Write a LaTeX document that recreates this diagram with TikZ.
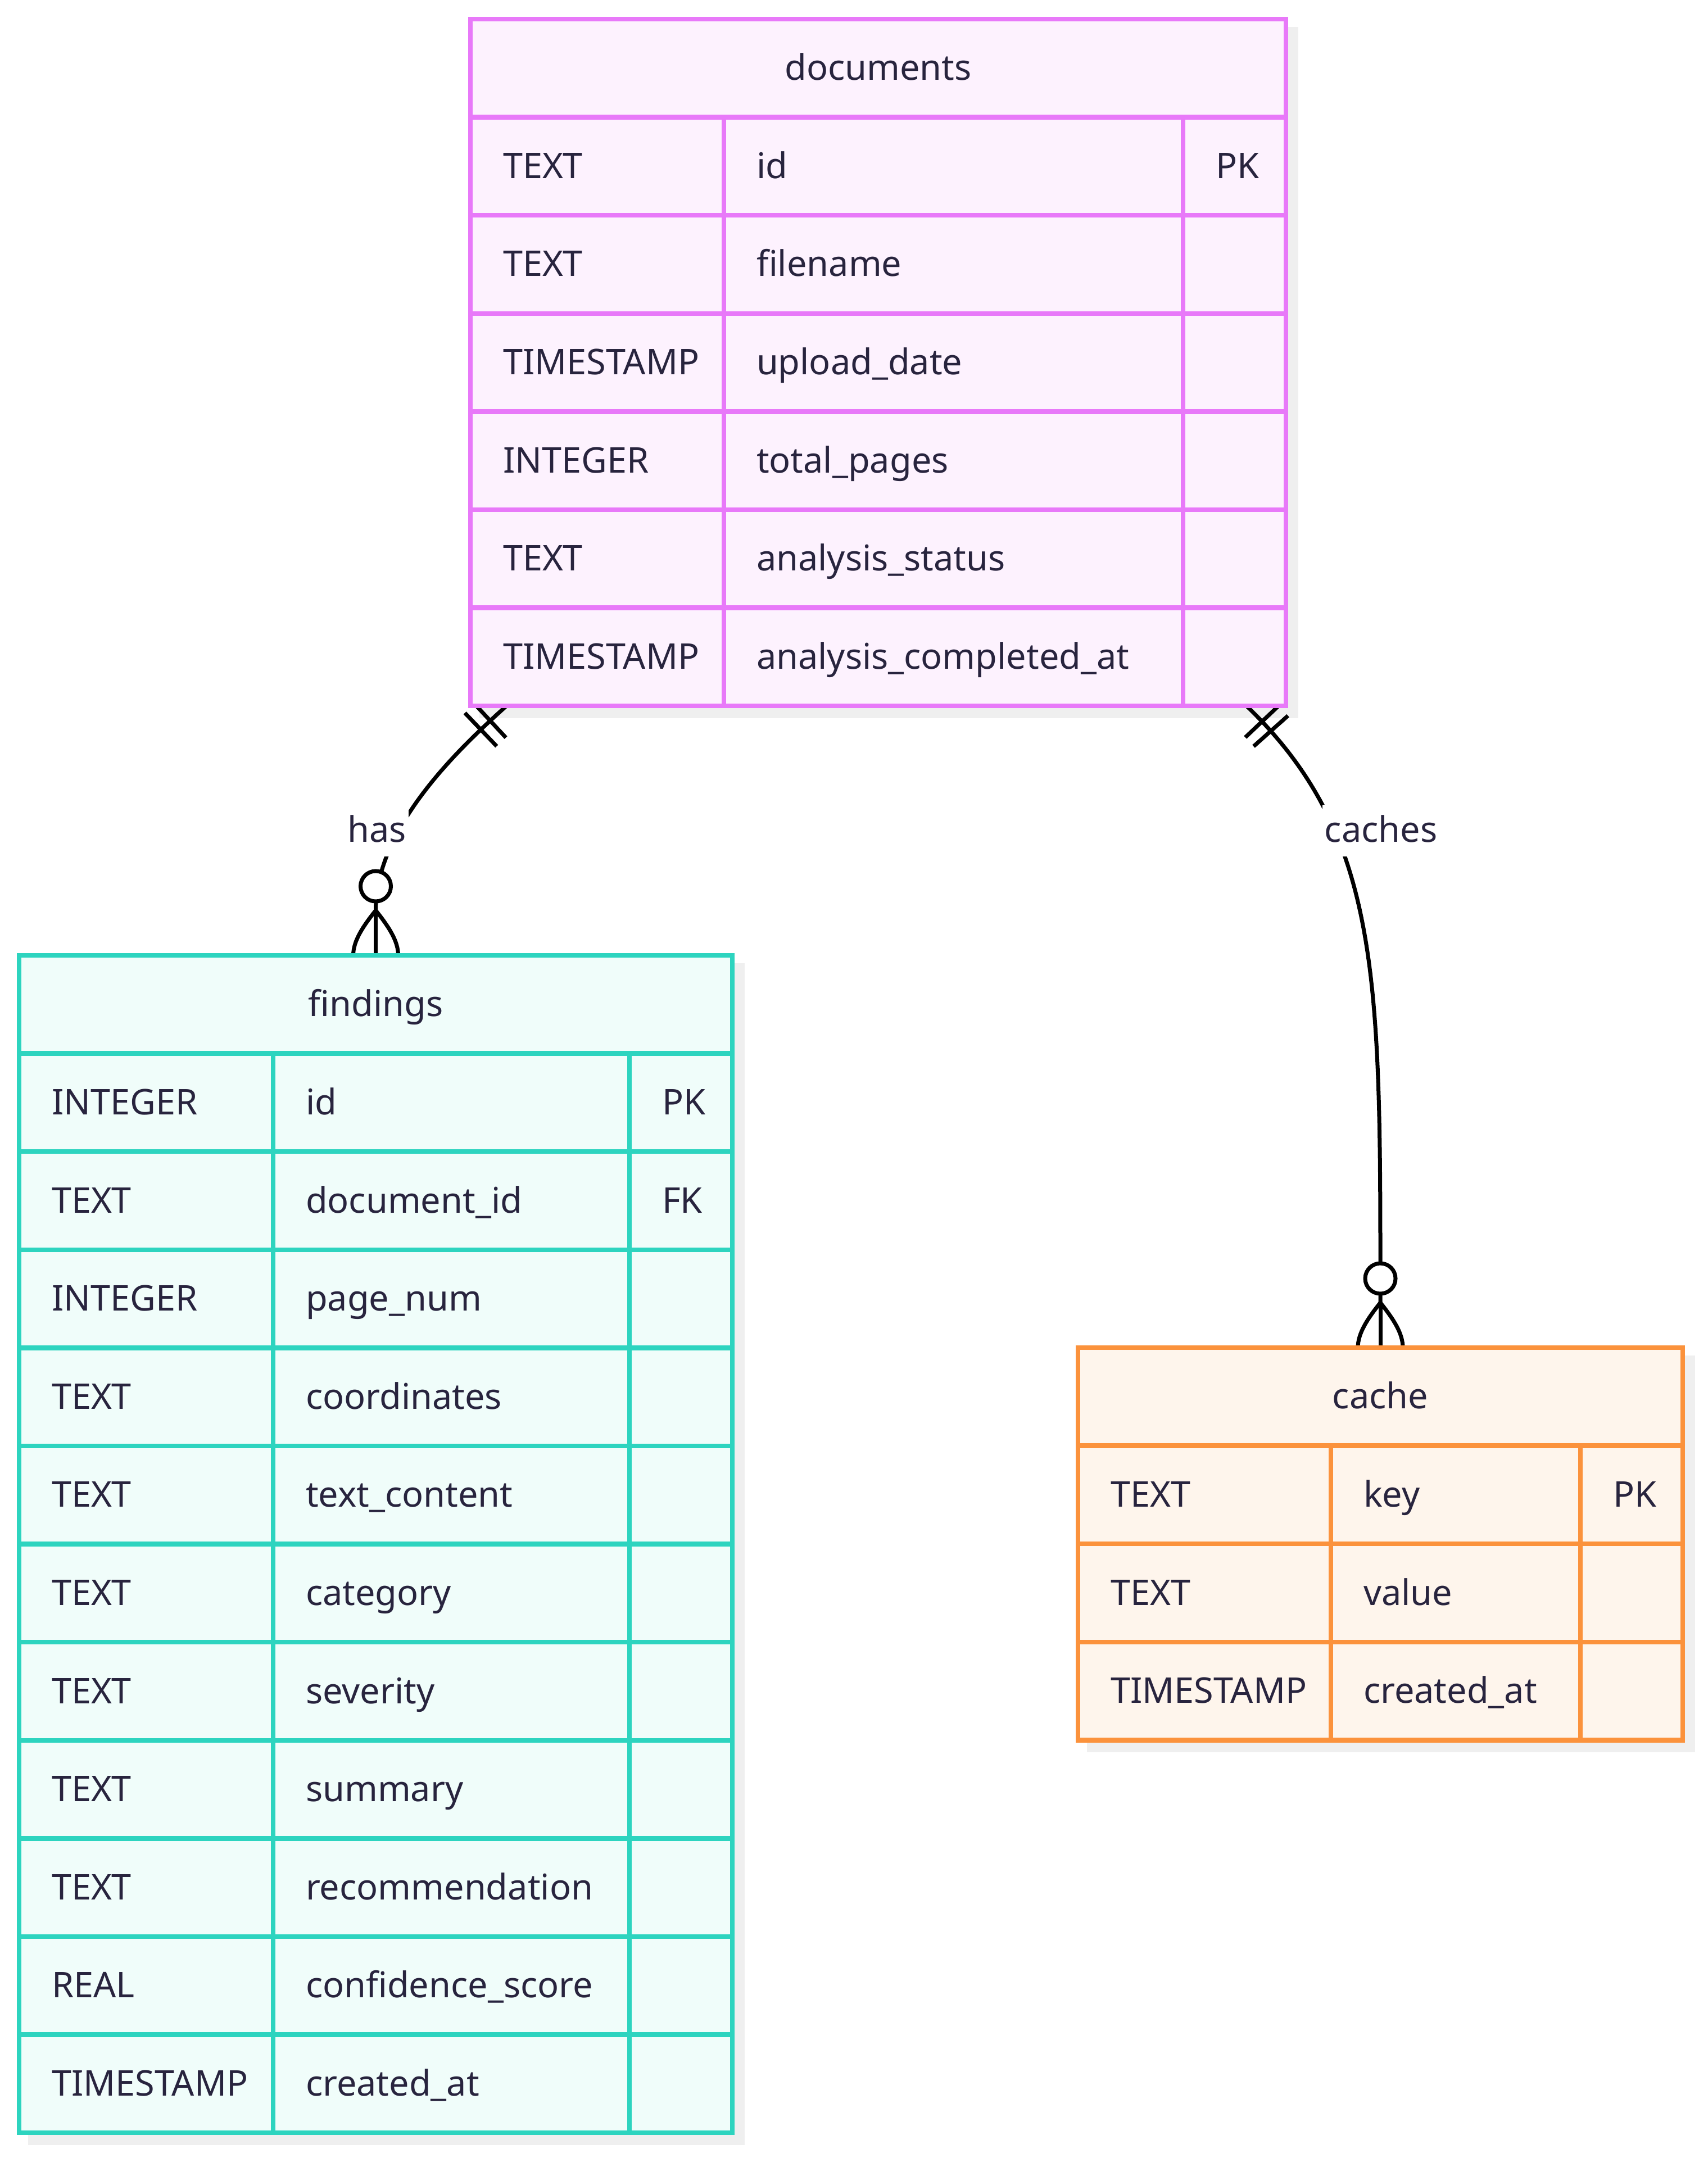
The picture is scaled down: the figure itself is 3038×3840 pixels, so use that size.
\documentclass[tikz,border=0pt]{standalone}
\usepackage{fontspec}
\setmainfont{Noto Sans}
\usetikzlibrary{calc,decorations.markings}

\definecolor{inkcol}{RGB}{40,36,62}
\definecolor{docline}{RGB}{232,121,249}
\definecolor{docfill}{RGB}{253,242,254}
\definecolor{findline}{RGB}{45,212,191}
\definecolor{findfill}{RGB}{240,253,250}
\definecolor{cacheline}{RGB}{251,146,60}
\definecolor{cachefill}{RGB}{254,245,236}
\definecolor{shadecol}{RGB}{239,239,239}

\pgfdeclarelayer{paper}
\pgfdeclarelayer{shadowlayer}
\pgfdeclarelayer{edgelayer}
\pgfsetlayers{paper,shadowlayer,edgelayer,main}

\tikzset{
  entitybox/.style={inner sep=0pt, outer sep=0pt, line width=2.1pt},
  entityline/.style={line width=2.1pt},
  entitytext/.style={inner sep=0pt, outer sep=0pt, text=inkcol,
    font=\fontsize{15.75pt}{19pt}\selectfont},
  relline/.style={line width=1.75pt, draw=black},
  rellabel/.style={fill=white, inner xsep=1pt, inner ysep=0pt,
    text height=16.5pt, text depth=6.5pt, text=inkcol,
    font=\fontsize{15.75pt}{19pt}\selectfont},
}

% one entity table: name, line colour, fill colour, left, top, right,
% first divider, second divider, rows (type/name/key)
\newcommand{\erentity}[9]{%
  \def\rowh{174.6}%
  \def\nrows{0}%
  \foreach \ty/\nm/\ky in {#9}{\xdef\nrows{\the\numexpr\nrows+1\relax}}%
  \pgfmathsetmacro\ebottom{#5+(\nrows+1)*\rowh}%
  \pgfmathsetmacro\ewidth{(#6-#4)*0.25}%
  \pgfmathsetmacro\eheight{(\ebottom-#5)*0.25}%
  \node[entitybox, draw=#2, fill=#3, minimum width=\ewidth pt,
        minimum height=\eheight pt, anchor=north west] (#1) at (#4,#5) {};
  \begin{pgfonlayer}{shadowlayer}
    \fill[shadecol] ($(#1.north west)+(16,14)$) rectangle ($(#1.south east)+(22,22)$);
  \end{pgfonlayer}
  \foreach \i in {1,...,\nrows}{
    \draw[entityline, draw=#2] (#4,{#5+\i*\rowh}) -- (#6,{#5+\i*\rowh});
  }
  \draw[entityline, draw=#2] (#7,{#5+\rowh}) -- (#7,\ebottom);
  \draw[entityline, draw=#2] (#8,{#5+\rowh}) -- (#8,\ebottom);
  \node[entitytext, anchor=base] (#1-title) at ({(#4+#6)/2},{#5+0.5*\rowh+21.5}) {#1};
  \foreach \ty/\nm/\ky [count=\r] in {#9}{
    \pgfmathsetmacro\yb{#5+(\r+0.5)*\rowh+21.5}
    \node[entitytext, anchor=base west] (#1-\r-type) at ({#4+58},\yb) {\ty};
    \node[entitytext, anchor=base west] (#1-\r-name) at ({#7+58},\yb) {\nm};
    \node[entitytext, anchor=base west] (#1-\r-key) at ({#8+58},\yb) {\ky};
  }
}

% zero-or-many end: circle and crow's foot above a table's top edge
\newcommand{\zeromany}[1]{%
  \draw[relline] ($(#1.north)+(0,-80)$) -- (#1.north);
  \draw[relline] ($(#1.north)+(0,-80)$) .. controls ($(#1.north)+(-24,-50)$)
    and ($(#1.north)+(-40,-25)$) .. ($(#1.north)+(-40,0)$);
  \draw[relline] ($(#1.north)+(0,-80)$) .. controls ($(#1.north)+(24,-50)$)
    and ($(#1.north)+(40,-25)$) .. ($(#1.north)+(40,0)$);
  \draw[relline, fill=white] ($(#1.north)+(0,-123)$) circle[radius=6.75pt];
}

\begin{document}
\begin{tikzpicture}[x=0.25pt, y=-0.25pt]
\useasboundingbox (0,0) rectangle (3038,3840);
\begin{pgfonlayer}{paper}
  \fill[white] (0,0) rectangle (3038,3840);
\end{pgfonlayer}

\erentity{documents}{docline}{docfill}{837}{34}{2288}{1288}{2105}{%
  TEXT/id/PK,
  TEXT/filename/{},
  TIMESTAMP/upload\_date/{},
  INTEGER/total\_pages/{},
  TEXT/analysis\_status/{},
  TIMESTAMP/analysis\_completed\_at/{}}

\erentity{findings}{findline}{findfill}{34}{1700}{1303}{486}{1120}{%
  INTEGER/id/PK,
  TEXT/document\_id/FK,
  INTEGER/page\_num/{},
  TEXT/coordinates/{},
  TEXT/text\_content/{},
  TEXT/category/{},
  TEXT/severity/{},
  TEXT/summary/{},
  TEXT/recommendation/{},
  REAL/confidence\_score/{},
  TIMESTAMP/created\_at/{}}

\erentity{cache}{cacheline}{cachefill}{1918}{2398}{2994}{2368}{2812}{%
  TEXT/key/PK,
  TEXT/value/{},
  TIMESTAMP/created\_at/{}}

\begin{pgfonlayer}{edgelayer}
  % documents ||--o{ findings : has
  \coordinate (hasstart) at ($(documents.south west)+(64,0)$);
  \draw[relline, postaction={decorate, decoration={markings,
      mark=at position 9.75pt with {\draw[relline] (0,-41) -- (0,41);},
      mark=at position 15.5pt with {\draw[relline] (0,-41) -- (0,41);}}}]
    (hasstart) .. controls ($(hasstart)+(-81,73)$)
      and ($(findings.north)+(0,-230)$) .. ($(findings.north)+(0,-80)$);
  \node[rellabel, anchor=base] (haslabel) at (670.5,1498) {has};
  \zeromany{findings}

  % documents ||--o{ cache : caches
  \coordinate (cachestart) at ($(documents.south east)+(-70,0)$);
  \draw[relline, postaction={decorate, decoration={markings,
      mark=at position 9.75pt with {\draw[relline] (0,-41) -- (0,41);},
      mark=at position 15.5pt with {\draw[relline] (0,-41) -- (0,41);}}}]
    (cachestart) .. controls ($(cachestart)+(242,233)$)
      and ($(cache.north)+(0,-648)$) .. ($(cache.north)+(0,-80)$);
  \node[rellabel, anchor=base] (cacheslabel) at (2457,1498) {caches};
  \zeromany{cache}
\end{pgfonlayer}
\end{tikzpicture}
\end{document}
